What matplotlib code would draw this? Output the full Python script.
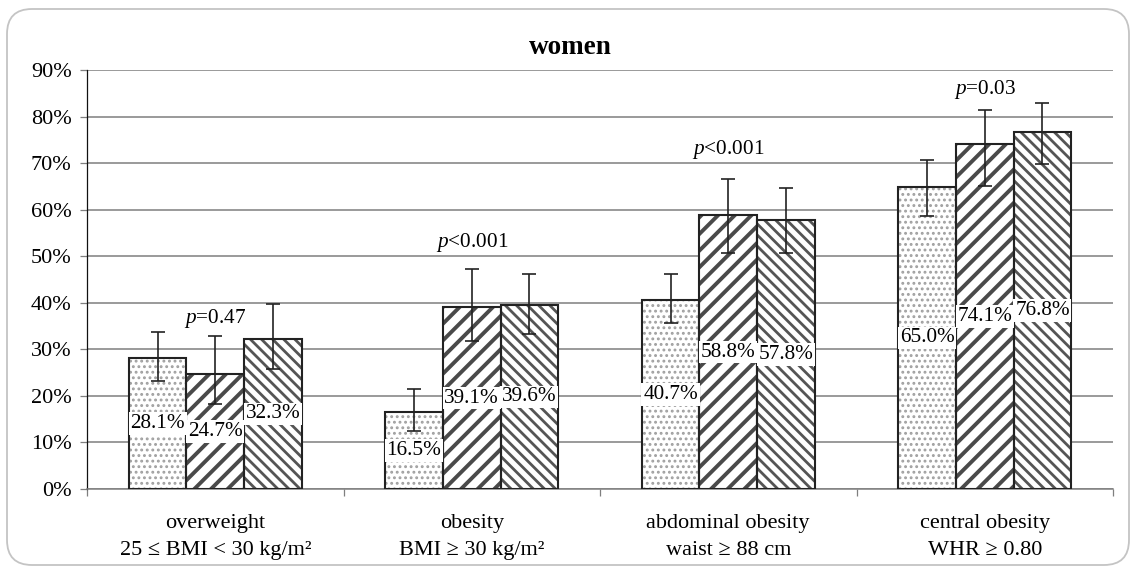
import numpy as np
import matplotlib
matplotlib.use('Agg')
import matplotlib.pyplot as plt
from matplotlib.patches import FancyBboxPatch
from matplotlib.ticker import FuncFormatter
import matplotlib.transforms as mtrans

plt.rcParams['font.family'] = 'Liberation Serif'
plt.rcParams['mathtext.fontset'] = 'custom'
plt.rcParams['mathtext.rm'] = 'Liberation Serif'
plt.rcParams['mathtext.it'] = 'Liberation Serif:italic'

# prevalence among women (%), three groups per category
cat_names = ['overweight', 'obesity', 'abdominal obesity', 'central obesity']
cat_defs = ['25 \u2264 BMI < 30 kg/m\u00b2', 'BMI \u2265 30 kg/m\u00b2',
            'waist \u2265 88 cm', 'WHR \u2265 0.80']

grp1 = np.array([28.1, 16.5, 40.7, 65.0])
grp2 = np.array([24.7, 39.1, 58.8, 74.1])
grp3 = np.array([32.3, 39.6, 57.8, 76.8])

# 95% CI bounds
lo1 = np.array([23.2, 12.5, 35.7, 58.7])
hi1 = np.array([33.7, 21.5, 46.2, 70.7])
lo2 = np.array([18.3, 31.9, 50.8, 65.1])
hi2 = np.array([32.9, 47.3, 66.6, 81.5])
lo3 = np.array([25.8, 33.3, 50.8, 69.9])
hi3 = np.array([39.8, 46.2, 64.7, 83.0])

p_vals = ['=0.47', '<0.001', '<0.001', '=0.03']
p_ypos = [36.7, 53.0, 72.9, 85.8]

W, H = 1133, 569
DPI = 100
fig = plt.figure(figsize=(W / DPI, H / DPI), dpi=DPI)
ax = fig.add_axes([87 / W, 1 - 489 / H, 1026 / W, 418.7 / H])

# rounded frame around the whole chart
frame = FancyBboxPatch((7 / DPI, 4 / DPI), 1122 / DPI, 556 / DPI,
                       boxstyle='round,pad=0,rounding_size=0.25',
                       transform=fig.dpi_scale_trans, fc='none',
                       ec='#c4c4c4', lw=1.3, zorder=0)
fig.patches.append(frame)

centers = np.arange(len(cat_names)) + 0.5
bw = 0.225
series = [
    (grp1, lo1, hi1, -bw, '...', '#a0a0a0', 1.3),
    (grp2, lo2, hi2, 0.0, '//', '#4a4a4a', 2.8),
    (grp3, lo3, hi3, bw, '\\\\\\', '#555555', 2.0),
]

for vals, lo, hi, off, hatch, hcol, hlw in series:
    xs = centers + off
    with plt.rc_context({'hatch.linewidth': hlw}):
        bars = ax.bar(xs, vals, bw, color='white', edgecolor=hcol,
                      hatch=hatch, linewidth=0, zorder=2)
    for b in bars:
        if hasattr(b, 'set_hatch_linewidth'):
            b.set_hatch_linewidth(hlw)
    ax.bar(xs, vals, bw, fill=False, edgecolor='#222222', linewidth=1.5, zorder=3)
    ax.errorbar(xs, vals, yerr=[vals - lo, hi - vals], fmt='none',
                ecolor='#222222', elinewidth=1.2, capsize=4.7, capthick=1.2,
                zorder=4)
    for xv, v in zip(xs, vals):
        ax.text(xv, v / 2, f'{v:.1f}%', ha='center', va='center', fontsize=15.3,
                bbox=dict(fc='white', ec='none', pad=1.2), zorder=5)

for xc, p, yp in zip(centers, p_vals, p_ypos):
    ax.text(xc, yp, '$p$' + p, ha='center', va='center', fontsize=15.3, zorder=5)

ax.set_xlim(0, len(cat_names))
ax.set_ylim(0, 90)
ax.set_yticks(range(0, 91, 10))
ax.yaxis.set_major_formatter(FuncFormatter(lambda v, pos: f'{v:.0f}%'))
ax.set_xticks(range(len(cat_names) + 1))
ax.set_xticklabels([])
ax.yaxis.grid(True, color='#7f7f7f', lw=1.1)
ax.set_axisbelow(True)
ax.tick_params(axis='y', length=5, width=0.9, color='#7f7f7f', pad=6,
               labelsize=16)
ax.tick_params(axis='x', length=5, width=0.9, color='#7f7f7f')
for s in ['top', 'right']:
    ax.spines[s].set_visible(False)
ax.spines['left'].set_color('#111111')
ax.spines['left'].set_linewidth(0.9)
ax.spines['bottom'].set_color('#7f7f7f')
ax.spines['bottom'].set_linewidth(1.1)

# two-line category labels under the axis
trans = mtrans.blended_transform_factory(ax.transData, ax.transAxes)
for xc, name, d in zip(centers, cat_names, cat_defs):
    ax.text(xc, -0.083, name, transform=trans, ha='center', va='center',
            fontsize=16)
    ax.text(xc, -0.148, d, transform=trans, ha='center', va='center',
            fontsize=16)

fig.text(570 / W, 1 - 47 / H, 'women', ha='center', va='center',
         fontsize=19.5, fontweight='bold')

fig.savefig('out.png', dpi=DPI)
